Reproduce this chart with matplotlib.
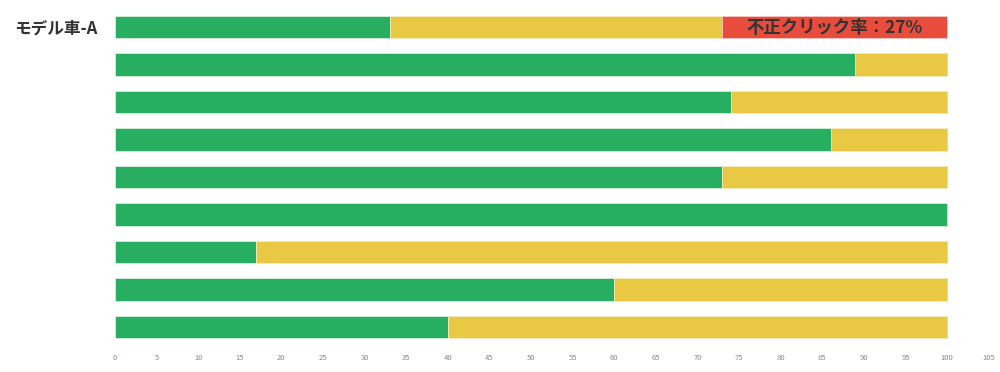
import matplotlib
matplotlib.use("Agg")
import matplotlib.pyplot as plt
import numpy as np

plt.rcParams['font.family'] = ['Noto Sans CJK JP', 'DejaVu Sans']

categories = ["モデル車-A", "", "", "", "", "", "", "", ""]
green = [33, 89, 74, 86, 73, 100, 17, 60, 40]
yellow = [40, 11, 26, 14, 27, 0, 83, 40, 60]
red = [27, 0, 0, 0, 0, 0, 0, 0, 0]
red_label = "不正クリック率：27%"
xticks = list(range(0, 110, 5))

C_GREEN = "#27ae60"
C_YELLOW = "#e9c844"
C_RED = "#e74c3c"

fig = plt.figure(figsize=(10, 3.72), dpi=100)
ax = fig.add_axes([0.115, 0.07, 0.8736, 0.908])

y = np.arange(len(categories))
h = 0.6
ax.barh(y, green, height=h, color=C_GREEN, edgecolor="#d8f0e0", linewidth=0.6)
ax.barh(y, yellow, left=green, height=h, color=C_YELLOW, edgecolor="#f5ebc0", linewidth=0.6)
left_red = [g + yv for g, yv in zip(green, yellow)]
ax.barh(y, red, left=left_red, height=h, color=C_RED, edgecolor="#f5c8c0", linewidth=0.6)

for i, r in enumerate(red):
    if r > 0:
        ax.text(left_red[i] + r / 2, y[i] + 0.04, red_label, ha="center", va="center",
                fontsize=12.5, fontweight="bold", color="#333333")

ax.set_xlim(0, 105)
ax.set_ylim(len(categories) - 0.5, -0.5)
ax.set_xticks(xticks)
ax.set_xticklabels([str(t) for t in xticks], fontsize=5.5, color="#888888")
ax.set_yticks(y)
ax.set_yticklabels(categories, fontsize=12, fontweight="bold", color="#333333")
ax.tick_params(axis="both", length=0)
ax.tick_params(axis="y", pad=13)
ax.tick_params(axis="x", pad=6)
for s in ax.spines.values():
    s.set_visible(False)

fig.savefig("out.png", dpi=100, facecolor="white")
